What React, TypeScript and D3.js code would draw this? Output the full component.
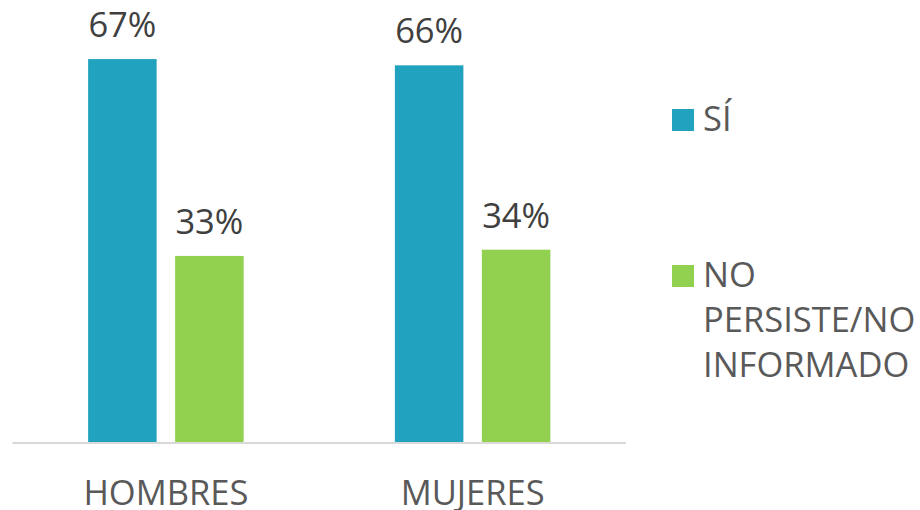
import React from "react";
import * as d3 from "d3";

const categories: string[] = ["HOMBRES", "MUJERES"];
const seriesNames: string[] = ["SÍ", "NO PERSISTE/NO INFORMADO"];
const siValues: number[] = [67.3, 66.2];
const noValues: number[] = [32.7, 33.8];
const colors: string[] = ["#21A2BE", "#92D050"];
const legendLines: string[][] = [["SÍ"], ["NO", "PERSISTE/NO", "INFORMADO"]];

const W = 920;
const H = 510;
const FONT = "'Open Sans', 'Noto Sans', sans-serif";
const FS = 34.5;

export default function App() {
  const baseY = 442;
  const x0 = d3.scaleBand<string>().domain(categories).range([12.5, 626]).paddingInner(0).paddingOuter(0);
  const half = 77.75;
  const inner = d3
    .scaleBand<string>()
    .domain(seriesNames)
    .range([x0.bandwidth() / 2 - half, x0.bandwidth() / 2 + half])
    .paddingInner(18.5 / 87)
    .paddingOuter(0);
  const y = d3.scaleLinear().domain([0, 100]).range([baseY, baseY - 569]);
  const fmt = (v: number) => `${d3.format(".0f")(v)}%`;
  const series = [siValues, noValues];

  return (
    <svg width={W} height={H} style={{ position: "absolute", left: 0, top: 0, background: "#fff" }} fontFamily={FONT}>
      {categories.map((c, ci) => (
        <g key={c}>
          {seriesNames.map((s, si) => {
            const v = series[si][ci];
            const bx = (x0(c) as number) + (inner(s) as number);
            const bw = inner.bandwidth();
            return (
              <g key={s}>
                <rect x={bx} y={y(v)} width={bw} height={baseY - y(v)} fill={colors[si]} />
                <text x={bx + bw / 2} y={y(v) - 22} textAnchor="middle" fontSize={FS} fill="#404040">
                  {fmt(v)}
                </text>
              </g>
            );
          })}
          <text x={(x0(c) as number) + x0.bandwidth() / 2} y={505} textAnchor="middle" fontSize={FS} fill="#595959">
            {c}
          </text>
        </g>
      ))}
      <line x1={12.5} x2={626} y1={baseY + 1} y2={baseY + 1} stroke="#d9d9d9" strokeWidth={2} />
      {legendLines.map((lines, i) => {
        const top = i === 0 ? 109 : 265;
        return (
          <g key={i}>
            <rect x={672} y={top} width={22} height={22} fill={colors[i]} />
            {lines.map((t, li) => (
              <text key={li} x={703} y={top + 22 + li * 45} fontSize={FS} fill="#595959">
                {t}
              </text>
            ))}
          </g>
        );
      })}
    </svg>
  );
}
